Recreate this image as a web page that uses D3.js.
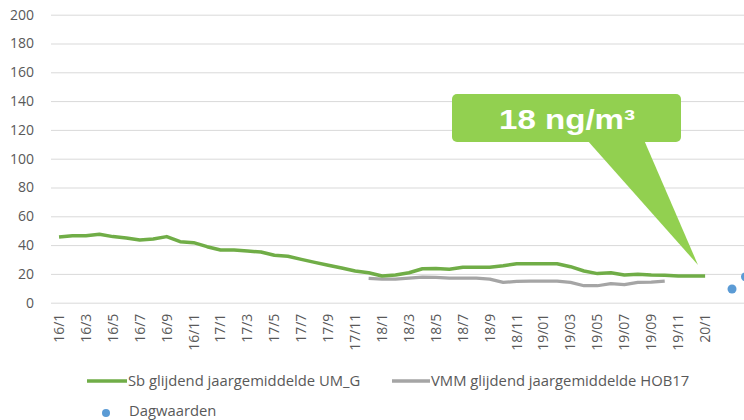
<!DOCTYPE html>
<html>
<head>
<meta charset="utf-8">
<script src="https://cdn.jsdelivr.net/npm/d3@7"></script>
<style>
  body { margin: 0; background: #fff; }
  svg { display: block; font-family: "Open Sans", sans-serif; }
</style>
</head>
<body>
<div id="chart"></div>
<script>
// monthly categories (x axis), last two only carry day values
const categories = [
  "16/1","16/2","16/3","16/4","16/5","16/6","16/7","16/8","16/9","16/10","16/11","16/12",
  "17/1","17/2","17/3","17/4","17/5","17/6","17/7","17/8","17/9","17/10","17/11","17/12",
  "18/1","18/2","18/3","18/4","18/5","18/6","18/7","18/8","18/9","18/10","18/11","18/12",
  "19/01","19/02","19/03","19/04","19/05","19/06","19/07","19/08","19/09","19/10","19/11","19/12",
  "20/1","20/2","20/3","20/4"
];
const tickLabels = [
  "16/1","16/3","16/5","16/7","16/9","16/11","17/1","17/3","17/5","17/7","17/9","17/11",
  "18/1","18/3","18/5","18/7","18/9","18/11","19/01","19/03","19/05","19/07","19/09","19/11","20/1"
];
const yTicks = [0, 20, 40, 60, 80, 100, 120, 140, 160, 180, 200];

// Sb glijdend jaargemiddelde UM_G (16/1 .. 20/1)
const sbValues = [
  45.6, 46.5, 46.5, 47.5, 45.9, 45.0, 43.5, 44.2, 45.9, 42.4, 41.7, 38.9,
  36.6, 36.6, 35.9, 35.2, 32.9, 32.2, 30.1, 28.0, 26.0, 24.1, 22.0, 20.8,
  18.5, 19.2, 20.8, 23.6, 23.8, 23.2, 24.6, 24.6, 24.6, 25.7, 27.1, 27.1,
  27.1, 27.1, 25.0, 22.0, 20.2, 20.8, 19.2, 19.7, 19.2, 19.0, 18.5, 18.5,
  18.5
];
// VMM glijdend jaargemiddelde HOB17 (17/12 .. 19/10)
const vmmStart = "17/12";
const vmmValues = [
  16.9, 16.4, 16.4, 17.1, 17.8, 17.6, 17.1, 17.1, 17.1, 16.4, 14.1, 14.8,
  15.0, 15.0, 15.0, 14.1, 11.8, 11.8, 13.2, 12.5, 14.1, 14.3, 15.0
];
// Dagwaarden
const dayCats = ["20/3", "20/4"];
const dayValues = [9.5, 18];

const width = 744;
const height = 420;

const svg = d3.select("#chart").append("svg")
  .attr("width", width)
  .attr("height", height);

const x = d3.scaleBand()
  .domain(categories)
  .range([52.3, 52.3 + categories.length * 13.46]);
const y = d3.scaleLinear()
  .domain([0, 200])
  .range([302.7, 14.7]);
const cx = c => x(c) + x.bandwidth() / 2;

// gridlines + y labels
svg.append("g")
  .attr("transform", "translate(51,0)")
  .call(d3.axisLeft(y).tickValues(yTicks).tickSize(-(width - 51)).tickPadding(17))
  .call(g => g.select(".domain").remove())
  .call(g => g.selectAll("line").attr("stroke", "#d9d9d9"))
  .call(g => g.selectAll("text")
    .attr("fill", "#595959")
    .style("font-size", "14px")
    .style("font-family", "Open Sans"));

// x labels
svg.append("g")
  .attr("transform", `translate(0,${y(0)})`)
  .call(d3.axisBottom(x).tickValues(tickLabels).tickSize(0))
  .call(g => g.select(".domain").remove())
  .call(g => g.selectAll("text")
    .attr("y", 0)
    .attr("x", -11)
    .attr("dy", "0.35em")
    .attr("transform", "rotate(-90)")
    .style("text-anchor", "end")
    .attr("fill", "#595959")
    .style("font-size", "14px")
    .style("font-family", "Open Sans"));

const line = d3.line()
  .defined(d => d.v != null)
  .x(d => cx(d.c))
  .y(d => y(d.v));

const sbData = sbValues.map((v, i) => ({ c: categories[i], v }));
const vStart = categories.indexOf(vmmStart);
const vmmData = vmmValues.map((v, i) => ({ c: categories[vStart + i], v }));

svg.append("path")
  .datum(vmmData)
  .attr("fill", "none")
  .attr("stroke", "#a5a5a5")
  .attr("stroke-width", 3.2)
  .attr("stroke-linejoin", "round")
  .attr("d", line);

svg.append("path")
  .datum(sbData)
  .attr("fill", "none")
  .attr("stroke", "#70ad47")
  .attr("stroke-width", 3.5)
  .attr("stroke-linejoin", "round")
  .attr("d", line);

svg.selectAll(".day")
  .data(dayValues)
  .enter()
  .append("circle")
  .attr("class", "day")
  .attr("cx", (d, i) => cx(dayCats[i]))
  .attr("cy", d => y(d))
  .attr("r", 4.5)
  .attr("fill", "#5b9bd5");

// callout
const callout = svg.append("g");
callout.append("path")
  .attr("d", "M587,140 L644,140 L698,265 Z")
  .attr("fill", "#92d050");
callout.append("rect")
  .attr("x", 452).attr("y", 94)
  .attr("width", 229).attr("height", 48)
  .attr("rx", 5)
  .attr("fill", "#92d050");
callout.append("text")
  .attr("x", 499).attr("y", 128.5)
  .attr("textLength", 136)
  .attr("lengthAdjust", "spacingAndGlyphs")
  .attr("fill", "#fff")
  .style("font-family", "Liberation Sans, Arial, sans-serif")
  .style("font-weight", "bold")
  .style("font-size", "28px")
  .text("18 ng/m³");

// legend
const legend = svg.append("g")
  .style("font-size", "14.8px")
  .style("font-family", "Open Sans")
  .attr("fill", "#595959");
legend.append("line")
  .attr("x1", 87).attr("x2", 127).attr("y1", 381).attr("y2", 381)
  .attr("stroke", "#70ad47").attr("stroke-width", 3.5);
legend.append("text").attr("x", 128).attr("y", 386)
  .text("Sb glijdend jaargemiddelde UM_G");
legend.append("line")
  .attr("x1", 392).attr("x2", 430).attr("y1", 381).attr("y2", 381)
  .attr("stroke", "#a5a5a5").attr("stroke-width", 3.5);
legend.append("text").attr("x", 431).attr("y", 386)
  .text("VMM glijdend jaargemiddelde HOB17");
legend.append("circle")
  .attr("cx", 106).attr("cy", 413).attr("r", 4)
  .attr("fill", "#5b9bd5");
legend.append("text").attr("x", 129).attr("y", 416)
  .text("Dagwaarden");
</script>
</body>
</html>
